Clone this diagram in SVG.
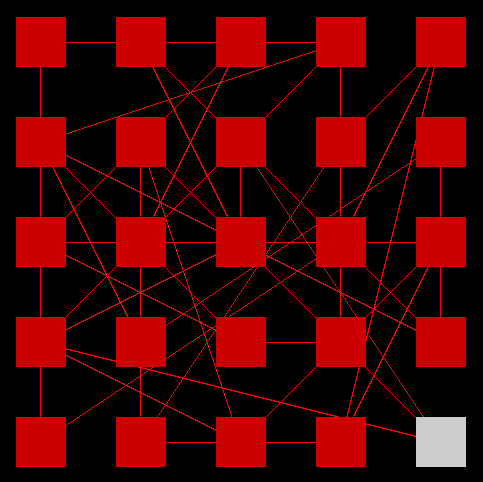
<svg xmlns="http://www.w3.org/2000/svg" width="483" height="482" viewBox="0 0 483 482">
<style>
.bg{fill:#000}
.n{fill:#cc0000}
.n.g{fill:#cccccc}
#edges line{stroke:#ff0000;stroke-width:1;shape-rendering:crispEdges}
</style>
<rect class="bg" x="0" y="0" width="483" height="482"/>
<g id="edges">
<line x1="40.5" y1="42.5" x2="140.5" y2="42.5"/>
<line x1="140.5" y1="42.5" x2="240.5" y2="42.5"/>
<line x1="240.5" y1="42.5" x2="340.5" y2="42.5"/>
<line x1="40.5" y1="242.5" x2="140.5" y2="242.5"/>
<line x1="140.5" y1="242.5" x2="240.5" y2="242.5"/>
<line x1="240.5" y1="242.5" x2="340.5" y2="242.5"/>
<line x1="340.5" y1="242.5" x2="440.5" y2="242.5"/>
<line x1="240.5" y1="342.5" x2="340.5" y2="342.5"/>
<line x1="140.5" y1="442.5" x2="240.5" y2="442.5"/>
<line x1="240.5" y1="442.5" x2="340.5" y2="442.5"/>
<line x1="40.5" y1="42.5" x2="40.5" y2="142.5"/>
<line x1="40.5" y1="142.5" x2="40.5" y2="242.5"/>
<line x1="40.5" y1="242.5" x2="40.5" y2="342.5"/>
<line x1="40.5" y1="342.5" x2="40.5" y2="442.5"/>
<line x1="340.5" y1="42.5" x2="340.5" y2="142.5"/>
<line x1="140.5" y1="142.5" x2="140.5" y2="242.5"/>
<line x1="240.5" y1="142.5" x2="240.5" y2="242.5"/>
<line x1="340.5" y1="142.5" x2="340.5" y2="242.5"/>
<line x1="440.5" y1="142.5" x2="440.5" y2="242.5"/>
<line x1="140.5" y1="242.5" x2="140.5" y2="342.5"/>
<line x1="340.5" y1="242.5" x2="340.5" y2="342.5"/>
<line x1="440.5" y1="242.5" x2="440.5" y2="342.5"/>
<line x1="140.5" y1="342.5" x2="140.5" y2="442.5"/>
<line x1="40.5" y1="142.5" x2="340.5" y2="42.5"/>
<line x1="140.5" y1="42.5" x2="240.5" y2="242.5"/>
<line x1="140.5" y1="42.5" x2="440.5" y2="342.5"/>
<line x1="240.5" y1="42.5" x2="40.5" y2="242.5"/>
<line x1="240.5" y1="42.5" x2="140.5" y2="242.5"/>
<line x1="340.5" y1="42.5" x2="40.5" y2="342.5"/>
<line x1="440.5" y1="42.5" x2="340.5" y2="142.5"/>
<line x1="440.5" y1="42.5" x2="340.5" y2="242.5"/>
<line x1="440.5" y1="42.5" x2="340.5" y2="442.5"/>
<line x1="40.5" y1="142.5" x2="140.5" y2="342.5"/>
<line x1="40.5" y1="142.5" x2="240.5" y2="342.5"/>
<line x1="40.5" y1="142.5" x2="440.5" y2="342.5"/>
<line x1="140.5" y1="142.5" x2="240.5" y2="442.5"/>
<line x1="140.5" y1="142.5" x2="440.5" y2="442.5"/>
<line x1="240.5" y1="142.5" x2="440.5" y2="442.5"/>
<line x1="340.5" y1="142.5" x2="140.5" y2="442.5"/>
<line x1="440.5" y1="142.5" x2="140.5" y2="342.5"/>
<line x1="40.5" y1="242.5" x2="240.5" y2="342.5"/>
<line x1="40.5" y1="342.5" x2="240.5" y2="242.5"/>
<line x1="40.5" y1="442.5" x2="340.5" y2="242.5"/>
<line x1="440.5" y1="242.5" x2="240.5" y2="442.5"/>
<line x1="440.5" y1="242.5" x2="340.5" y2="442.5"/>
<line x1="40.5" y1="342.5" x2="240.5" y2="442.5"/>
<line x1="40.5" y1="342.5" x2="440.5" y2="442.5"/>
</g>
<g id="n00"><rect class="n" x="16" y="17" width="50" height="50"/></g>
<g id="n10"><rect class="n" x="116" y="17" width="50" height="50"/></g>
<g id="n20"><rect class="n" x="216" y="17" width="50" height="50"/></g>
<g id="n30"><rect class="n" x="316" y="17" width="50" height="50"/></g>
<g id="n40"><rect class="n" x="416" y="17" width="50" height="50"/></g>
<g id="n01"><rect class="n" x="16" y="117" width="50" height="50"/></g>
<g id="n11"><rect class="n" x="116" y="117" width="50" height="50"/></g>
<g id="n21"><rect class="n" x="216" y="117" width="50" height="50"/></g>
<g id="n31"><rect class="n" x="316" y="117" width="50" height="50"/></g>
<g id="n41"><rect class="n" x="416" y="117" width="50" height="50"/></g>
<g id="n02"><rect class="n" x="16" y="217" width="50" height="50"/></g>
<g id="n12"><rect class="n" x="116" y="217" width="50" height="50"/></g>
<g id="n22"><rect class="n" x="216" y="217" width="50" height="50"/></g>
<g id="n32"><rect class="n" x="316" y="217" width="50" height="50"/></g>
<g id="n42"><rect class="n" x="416" y="217" width="50" height="50"/></g>
<g id="n03"><rect class="n" x="16" y="317" width="50" height="50"/></g>
<g id="n13"><rect class="n" x="116" y="317" width="50" height="50"/></g>
<g id="n23"><rect class="n" x="216" y="317" width="50" height="50"/></g>
<g id="n33"><rect class="n" x="316" y="317" width="50" height="50"/></g>
<g id="n43"><rect class="n" x="416" y="317" width="50" height="50"/></g>
<g id="n04"><rect class="n" x="16" y="417" width="50" height="50"/></g>
<g id="n14"><rect class="n" x="116" y="417" width="50" height="50"/></g>
<g id="n24"><rect class="n" x="216" y="417" width="50" height="50"/></g>
<g id="n34"><rect class="n" x="316" y="417" width="50" height="50"/></g>
<g id="n44"><rect class="n g" x="416" y="417" width="50" height="50"/></g>
</svg>
